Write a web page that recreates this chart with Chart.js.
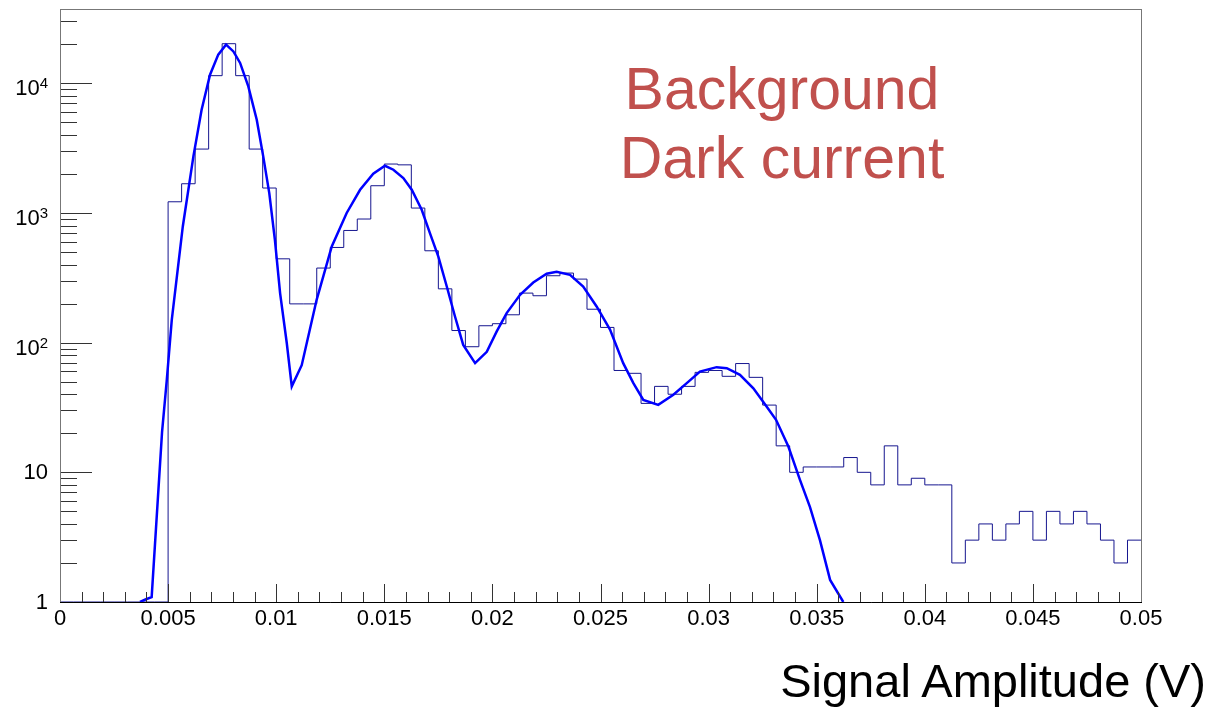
<!DOCTYPE html>
<html>
<head>
<meta charset="utf-8">
<script src="https://cdn.jsdelivr.net/npm/chart.js@4.4.1/dist/chart.umd.min.js"></script>
<style>
   html, body { margin: 0; padding: 0; background: #fff; }
   #wrap { position: relative; width: 1216px; height: 707px; }
   #spectrum { position: absolute; left: 0; top: 0; }
   .note { position: absolute; font-family: "Liberation Sans", Arial, Helvetica, sans-serif; white-space: nowrap; }
   #bgNote { left: 532px; top: 55px; width: 500px; text-align: center; font-size: 59px; line-height: 69px; color: #c0504d; }
   #axisNote { right: 10px; top: 657px; font-size: 47px; line-height: 47px; color: #000; }
</style>
</head>
<body>
<div id="wrap">
   <canvas id="spectrum" width="1216" height="707"></canvas>
   <div class="note" id="bgNote">Background<br>Dark current</div>
   <div class="note" id="axisNote">Signal Amplitude (V)</div>
</div>
<script>
// histogram: 80 bins of 0.000625 V from 0 to 0.05
var xMin = 0;
var xMax = 0.05;
var binWidth = 0.000625;
var binCounts = [
   0, 0, 0, 0, 0, 0, 0, 0, 1220, 1680,
   3110, 11450, 20200, 11450, 3110, 1557, 443, 199, 199, 376,
   542, 733, 898, 1622, 2384, 2350, 1091, 511, 260, 124,
   93, 135, 140, 164, 241, 230, 328, 344, 309, 181,
   131, 61, 58, 34, 46, 40, 46, 59, 61, 55,
   69, 54, 33, 16, 10, 11, 11, 11, 13, 10,
   8, 16, 8, 9, 8, 8, 2, 3, 4, 3,
   4, 5, 3, 5, 4, 5, 4, 3, 2, 3
];

// fitted curve (multi gaussian)
var fitX = [0.00370, 0.00398, 0.00424, 0.00472, 0.00494, 0.00517, 0.00568, 0.00617, 0.00655, 0.00694,
   0.00732, 0.00768, 0.00802, 0.00833, 0.00871, 0.00910, 0.00940, 0.00968, 0.00994, 0.01018,
   0.01049, 0.01072, 0.01118, 0.01187, 0.01257, 0.01326, 0.01388, 0.01449, 0.01503, 0.01542,
   0.01588, 0.01627, 0.01673, 0.01711, 0.01750, 0.01789, 0.01827, 0.01865, 0.01920, 0.01974,
   0.02020, 0.02066, 0.02128, 0.02189, 0.02251, 0.02297, 0.02359, 0.02420, 0.02482, 0.02544,
   0.02605, 0.02652, 0.02698, 0.02767, 0.02837, 0.02899, 0.02960, 0.03037, 0.03084, 0.03145,
   0.03207, 0.03269, 0.03312, 0.03369, 0.03423, 0.03469, 0.03515, 0.03562, 0.03623];
var fitY = [1.0, 1.05, 1.09, 20.4, 51.6, 150, 787, 2730, 6250, 11650,
   16630, 19860, 17600, 14360, 9460, 5240, 2730, 1422, 621, 241,
   99, 46, 67, 214, 552, 1000, 1510, 2005, 2312, 2155,
   1860, 1510, 1059, 700, 461, 271, 159, 96, 69.5, 85,
   122, 169, 234, 291, 340, 352, 333, 271, 190, 126,
   69.5, 48.7, 36.2, 33.1, 39.6, 48.7, 59.8, 64.7, 63.5, 56.4,
   44.5, 32.1, 25.4, 15.8, 8.7, 5.4, 3.0, 1.48, 1.0];

// axes
var yMin = 1;
var yMax = 37400;
var yTickValues = [1, 10, 100, 1000, 10000];
var yTickBase = ['1', '10', '10', '10', '10'];
var yTickExp = ['', '', '2', '3', '4'];
var xTickValues = [0, 0.005, 0.01, 0.015, 0.02, 0.025, 0.03, 0.035, 0.04, 0.045, 0.05];
var xTickLabels = ['0', '0.005', '0.01', '0.015', '0.02', '0.025', '0.03', '0.035', '0.04', '0.045', '0.05'];
var xMinorStep = 0.001;

var fontFamily = '"Liberation Sans", Arial, Helvetica, sans-serif';

// histogram points at the left bin edges, empty bins sit on the frame floor like ROOT does
var histData = [];
for (var i = 0; i < binCounts.length; i++) {
   histData.push({ x: xMin + i * binWidth, y: binCounts[i] > 0 ? binCounts[i] : yMin });
}
histData.push({ x: xMax, y: histData[histData.length - 1].y });

var fitData = [];
for (var j = 0; j < fitX.length; j++) {
   fitData.push({ x: fitX[j], y: fitY[j] });
}

// ROOT style frame with ticks pointing into the pad, and 10^n labels with a raised exponent
const rootFrame = {
   id: 'rootFrame',
   afterDraw: function(chart) {
      const c = chart.ctx;
      const a = chart.chartArea;
      const xs = chart.scales.x;
      const ys = chart.scales.y;
      c.save();
      c.lineWidth = 1;

      // y ticks
      c.strokeStyle = '#333';
      c.beginPath();
      for (var d = 1; d <= 10000; d *= 10) {
         for (var k = 1; k <= 9; k++) {
            var v = d * k;
            if (v > yMax) break;
            var py = Math.round(ys.getPixelForValue(v)) + 0.5;
            var len = (k === 1) ? 32 : 17;
            c.moveTo(a.left, py);
            c.lineTo(a.left + len, py);
         }
      }
      // x ticks
      var nMinor = Math.round((xMax - xMin) / xMinorStep);
      for (var m = 0; m <= nMinor; m++) {
         var xv = xMin + m * xMinorStep;
         var px = Math.round(xs.getPixelForValue(xv)) + 0.5;
         var l = (m % 5 === 0) ? 18 : 10;
         c.moveTo(px, a.bottom);
         c.lineTo(px, a.bottom - l);
      }
      c.stroke();

      // frame
      c.strokeStyle = '#777';
      c.strokeRect(a.left + 0.5, a.top + 0.5, a.right - a.left, a.bottom - a.top);
      c.strokeStyle = '#000';
      c.beginPath();
      c.moveTo(a.left, a.bottom + 0.5);
      c.lineTo(a.right + 1, a.bottom + 0.5);
      c.stroke();

      // y labels
      c.fillStyle = '#000';
      c.textBaseline = 'alphabetic';
      c.textAlign = 'right';
      var labelRight = a.left - 12;
      for (var t = 0; t < yTickValues.length; t++) {
         var ty = ys.getPixelForValue(yTickValues[t]);
         if (yTickExp[t] === '') {
            c.font = '22px ' + fontFamily;
            c.fillText(yTickBase[t], labelRight, ty + 7);
         } else {
            c.font = '15px ' + fontFamily;
            var ew = c.measureText(yTickExp[t]).width;
            c.fillText(yTickExp[t], labelRight, ty + 5);
            c.font = '22px ' + fontFamily;
            c.fillText(yTickBase[t], labelRight - ew, ty + 12);
         }
      }
      c.restore();
   }
};

const ctx = document.getElementById('spectrum');

new Chart(ctx, {
   type: 'line',
   data: {
      datasets: [{
         label: 'Dark current',
         data: histData,
         stepped: 'before',
         borderColor: '#16168f',
         borderWidth: 1,
         pointRadius: 0,
         fill: false,
         order: 2
      }, {
         label: 'Fit',
         data: fitData,
         borderColor: '#0000ff',
         borderWidth: 2.5,
         pointRadius: 0,
         tension: 0,
         fill: false,
         order: 1
      }]
   },
   options: {
      responsive: false,
      animation: false,
      events: [],
      layout: {
         padding: { top: 9, right: 75, left: 0, bottom: 0 }
      },
      plugins: {
         legend: { display: false },
         tooltip: { enabled: false },
         title: { display: false }
      },
      scales: {
         x: {
            type: 'linear',
            min: xMin,
            max: xMax,
            afterFit: function(scale) {
               scale.height = 105;
               scale.paddingLeft = 0;
               scale.paddingRight = 0;
            },
            afterBuildTicks: function(scale) {
               scale.ticks = xTickValues.map(function(v) { return { value: v }; });
            },
            ticks: {
               padding: 4,
               maxRotation: 0,
               autoSkip: false,
               color: '#000',
               font: { family: fontFamily, size: 22 },
               callback: function(value, index) { return xTickLabels[index]; }
            },
            grid: { display: false, drawTicks: false },
            border: { display: false }
         },
         y: {
            type: 'logarithmic',
            min: yMin,
            max: yMax,
            afterFit: function(scale) {
               scale.width = 60;
               scale.paddingTop = 0;
               scale.paddingBottom = 0;
            },
            afterBuildTicks: function(scale) {
               scale.ticks = yTickValues.map(function(v) { return { value: v }; });
            },
            // labels are drawn by rootFrame so the exponent can be raised
            ticks: { display: false },
            grid: { display: false, drawTicks: false },
            border: { display: false }
         }
      }
   },
   plugins: [rootFrame]
});
</script>
</body>
</html>
